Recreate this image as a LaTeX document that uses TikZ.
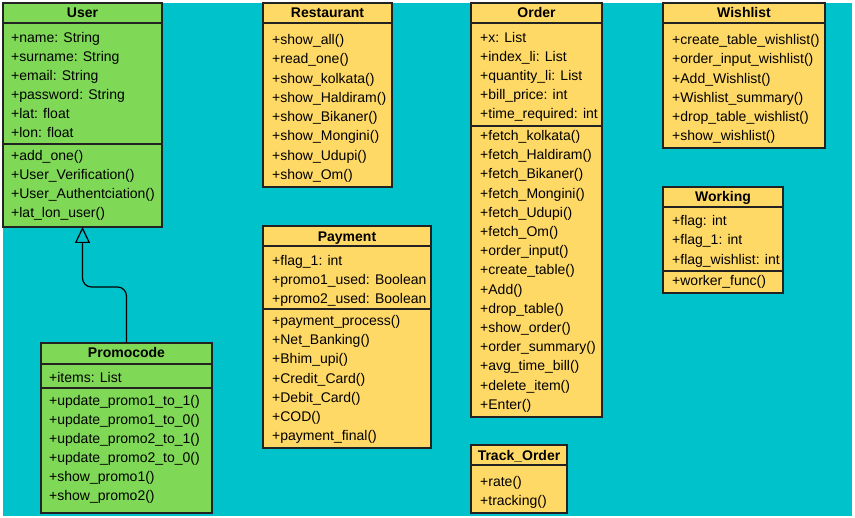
\documentclass[tikz,border=0pt]{standalone}
\usepackage{fontspec}
\setmainfont{Liberation Sans}
\usetikzlibrary{arrows.meta}
\definecolor{bgteal}{RGB}{0,194,203}
\definecolor{ugreen}{RGB}{127,217,87}
\definecolor{uyellow}{RGB}{255,217,102}
\definecolor{linec}{RGB}{34,34,34}
\tikzset{
  classbox/.style={draw=linec, line width=1.2pt, anchor=north west, inner sep=0pt, outer sep=0pt},
  hdr/.style={font=\fontsize{14}{17}\selectfont\bfseries, anchor=base, inner sep=0pt, text=black},
  txt/.style={font=\fontsize{14}{17}\selectfont, anchor=base west, inner sep=0pt, text=black},
  sepline/.style={draw=linec, line width=1.2pt},
  inh/.style={draw=black, line width=1.2pt, rounded corners=9pt, -{Triangle[open, length=16pt, width=15pt, line width=1.2pt]}}
}
\begin{document}
\begin{tikzpicture}[x=1pt, y=-1pt]
\useasboundingbox (0,0) rectangle (855,518);
\fill[white] (0,0) rectangle (855,518);
\fill[bgteal] (3,3) rectangle (852,516);

% ---------- User ----------
\node[classbox, fill=ugreen, minimum width=159pt, minimum height=224pt] (user) at (3,3) {};
\node[hdr] (userT) at (82.5,17.5) {User};
\draw[sepline] ([yshift=-20pt]user.north west) -- ([yshift=-20pt]user.north east);
\foreach \t [count=\i] in {{+name: String},{+surname: String},{+email: String},{+password: String},{+lat: float},{+lon: float}}
  \node[txt] (user-a\i) at (11,{42.5+(\i-1)*19}) {\t};
\draw[sepline] ([yshift=-141pt]user.north west) -- ([yshift=-141pt]user.north east);
\foreach \t [count=\i] in {{+add\_one()},{+User\_Verification()},{+User\_Authentciation()},{+lat\_lon\_user()}}
  \node[txt] (user-m\i) at (11,{160.5+(\i-1)*19}) {\t};

% ---------- Promocode ----------
\node[classbox, fill=ugreen, minimum width=171pt, minimum height=170pt] (promo) at (41,343) {};
\node[hdr] (promoT) at (126.5,357.5) {Promocode};
\draw[sepline] ([yshift=-21pt]promo.north west) -- ([yshift=-21pt]promo.north east);
\node[txt] (promo-a1) at (49,382.5) {+items: List};
\draw[sepline] ([yshift=-45pt]promo.north west) -- ([yshift=-45pt]promo.north east);
\foreach \t [count=\i] in {{+update\_promo1\_to\_1()},{+update\_promo1\_to\_0()},{+update\_promo2\_to\_1()},{+update\_promo2\_to\_0()},{+show\_promo1()},{+show\_promo2()}}
  \node[txt] (promo-m\i) at (49,{405.5+(\i-1)*19}) {\t};

% inheritance
\draw[inh] (promo.north) -- ++(0,-56) -| (user.south);

% ---------- Restaurant ----------
\node[classbox, fill=uyellow, minimum width=129pt, minimum height=184pt] (rest) at (263,3) {};
\node[hdr] (restT) at (327.5,17.5) {Restaurant};
\draw[sepline] ([yshift=-20pt]rest.north west) -- ([yshift=-20pt]rest.north east);
\foreach \t [count=\i] in {{+show\_all()},{+read\_one()},{+show\_kolkata()},{+show\_Haldiram()},{+show\_Bikaner()},{+show\_Mongini()},{+show\_Udupi()},{+show\_Om()}}
  \node[txt] (rest-m\i) at (272,{44.5+(\i-1)*19.3}) {\t};

% ---------- Payment ----------
\node[classbox, fill=uyellow, minimum width=168pt, minimum height=222pt] (pay) at (263,226) {};
\node[hdr] (payT) at (347,241.5) {Payment};
\draw[sepline] ([yshift=-20pt]pay.north west) -- ([yshift=-20pt]pay.north east);
\foreach \t [count=\i] in {{+flag\_1: int},{+promo1\_used: Boolean},{+promo2\_used: Boolean}}
  \node[txt] (pay-a\i) at (272,{265.5+(\i-1)*19}) {\t};
\draw[sepline] ([yshift=-83pt]pay.north west) -- ([yshift=-83pt]pay.north east);
\foreach \t [count=\i] in {{+payment\_process()},{+Net\_Banking()},{+Bhim\_upi()},{+Credit\_Card()},{+Debit\_Card()},{+COD()},{+payment\_final()}}
  \node[txt] (pay-m\i) at (272,{325.5+(\i-1)*19.2}) {\t};

% ---------- Order ----------
\node[classbox, fill=uyellow, minimum width=131pt, minimum height=414pt] (order) at (471,3) {};
\node[hdr] (orderT) at (536.5,17.5) {Order};
\draw[sepline] ([yshift=-20pt]order.north west) -- ([yshift=-20pt]order.north east);
\foreach \t [count=\i] in {{+x: List},{+index\_li: List},{+quantity\_li: List},{+bill\_price: int},{+time\_required: int}}
  \node[txt] (order-a\i) at (480,{42.5+(\i-1)*19}) {\t};
\draw[sepline] ([yshift=-123pt]order.north west) -- ([yshift=-123pt]order.north east);
\foreach \t [count=\i] in {{+fetch\_kolkata()},{+fetch\_Haldiram()},{+fetch\_Bikaner()},{+fetch\_Mongini()},{+fetch\_Udupi()},{+fetch\_Om()},{+order\_input()},{+create\_table()},{+Add()},{+drop\_table()},{+show\_order()},{+order\_summary()},{+avg\_time\_bill()},{+delete\_item()},{+Enter()}}
  \node[txt] (order-m\i) at (480,{140.5+(\i-1)*19.2}) {\t};

% ---------- Track_Order ----------
\node[classbox, fill=uyellow, minimum width=96pt, minimum height=68pt] (track) at (471,445) {};
\node[hdr] (trackT) at (519,460.5) {Track\_Order};
\draw[sepline] ([yshift=-20pt]track.north west) -- ([yshift=-20pt]track.north east);
\node[txt] (track-m1) at (480,486.5) {+rate()};
\node[txt] (track-m2) at (480,505.5) {+tracking()};

% ---------- Wishlist ----------
\node[classbox, fill=uyellow, minimum width=162pt, minimum height=145pt] (wish) at (663,3) {};
\node[hdr] (wishT) at (744,17.5) {Wishlist};
\draw[sepline] ([yshift=-20pt]wish.north west) -- ([yshift=-20pt]wish.north east);
\foreach \t [count=\i] in {{+create\_table\_wishlist()},{+order\_input\_wishlist()},{+Add\_Wishlist()},{+Wishlist\_summary()},{+drop\_table\_wishlist()},{+show\_wishlist()}}
  \node[txt] (wish-m\i) at (672,{44.5+(\i-1)*19.3}) {\t};

% ---------- Working ----------
\node[classbox, fill=uyellow, minimum width=120pt, minimum height=106pt] (work) at (663,187) {};
\node[hdr] (workT) at (723,201.5) {Working};
\draw[sepline] ([yshift=-20pt]work.north west) -- ([yshift=-20pt]work.north east);
\foreach \t [count=\i] in {{+flag: int},{+flag\_1: int},{+flag\_wishlist: int}}
  \node[txt] (work-a\i) at (672,{225.5+(\i-1)*19.5}) {\t};
\draw[sepline] ([yshift=-84pt]work.north west) -- ([yshift=-84pt]work.north east);
\node[txt] (work-m1) at (672,285.5) {+worker\_func()};
\end{tikzpicture}
\end{document}
